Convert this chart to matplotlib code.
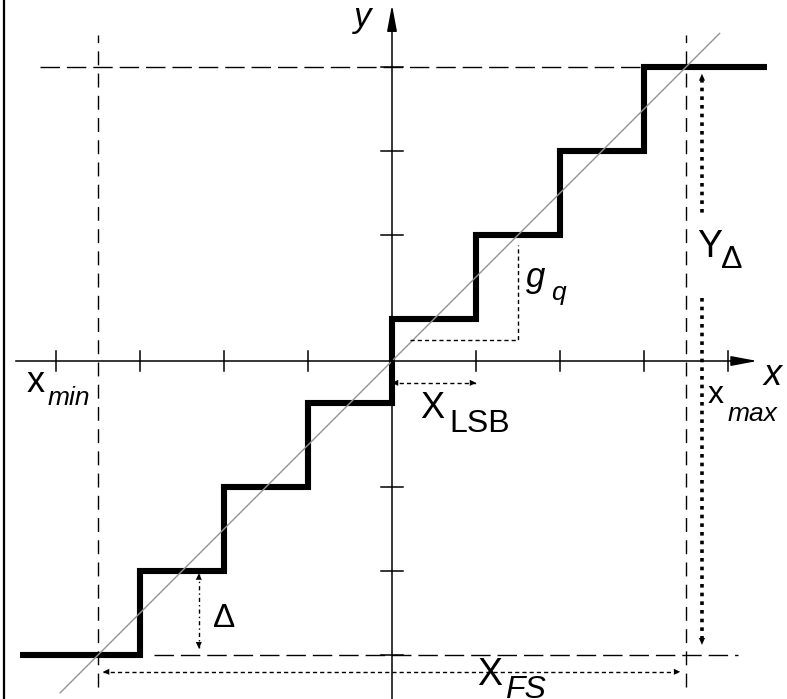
import matplotlib
matplotlib.use("Agg")
import matplotlib.pyplot as plt

# mid-rise quantizer, units of X_LSB (x) and Delta (y)
step_edges = [-4.43, -3, -2, -1, 0, 1, 2, 3, 4.46]
step_levels = [-3.5, -2.5, -1.5, -0.5, 0.5, 1.5, 2.5, 3.5]
ideal_line = [-3.95, 3.9]
x_ticks = [-4, -3, -2, -1, 1, 2, 3, 4]
y_ticks = [-3.5, -2.5, -1.5, 1.5, 2.5, 3.5]
x_min, x_max = -3.5, 3.5
y_min, y_max = -3.5, 3.5

SANS = "Liberation Sans"

fig = plt.figure(figsize=(7.87, 6.99), dpi=100)
ax = fig.add_axes([0, 0, 1, 1])
ax.set_xlim(-392 / 84, 395 / 84)
ax.set_ylim(-338 / 84, 361 / 84)
ax.axis("off")

# left frame line
ax.axvline(-4.615, color="k", lw=1.6)

# axes with arrows
ax.annotate("", xy=(4.35, 0), xytext=(-4.48, 0),
            arrowprops=dict(arrowstyle="-|>,head_length=1.6,head_width=0.3",
                            mutation_scale=10, lw=1.1, color="k",
                            shrinkA=0, shrinkB=0))
ax.annotate("", xy=(0, 4.24), xytext=(0, -4.05),
            arrowprops=dict(arrowstyle="-|>,head_length=1.6,head_width=0.3",
                            mutation_scale=10, lw=1.1, color="k",
                            shrinkA=0, shrinkB=0))
for t in x_ticks:
    ax.plot([t, t], [-0.12, 0.12], color="k", lw=1.1)
for t in y_ticks:
    ax.plot([-0.13, 0.13], [t, t], color="k", lw=1.1)

# range limits (dashed)
dash = (0, (14, 5))
vdash = (0, (10, 6))
ax.plot([x_min, x_min], [-3.88, 3.88], color="k", lw=1, ls=vdash)
ax.plot([x_max, x_max], [-3.88, 3.88], color="k", lw=1, ls=vdash)
ax.plot([-4.19, 3.0], [y_max, y_max], color="k", lw=1, ls=dash)
ax.plot([-2.83, 4.12], [y_min, y_min], color="k", lw=1, ls=dash)

# ideal transfer line and quantizer staircase
ax.plot(ideal_line, ideal_line, color="#949494", lw=1.0)
ax.stairs(step_levels, step_edges, baseline=None, color="k", lw=4.4,
          joinstyle="miter", capstyle="butt")


def head(tip, frm, size=0.45):
    ax.annotate("", xy=tip, xytext=frm,
                arrowprops=dict(arrowstyle="-|>,head_length=%g,head_width=0.22" % size,
                                mutation_scale=10, lw=0, color="k",
                                shrinkA=0, shrinkB=0))


fine = (0, (3, 2.2))
# X_LSB
ax.plot([0, 1], [-0.26, -0.26], color="k", lw=1, ls=fine)
head((0.0, -0.26), (0.1, -0.26))
head((1.0, -0.26), (0.9, -0.26))
# g_q
ax.plot([0.21, 1.5, 1.5], [0.25, 0.25, 1.38], color="k", lw=1, ls=fine)
# Delta
ax.plot([-2.3, -2.3], [-2.53, -3.42], color="k", lw=1, ls=(0, (3, 2.2, 1, 2.2)))
head((-2.3, -2.53), (-2.3, -2.63))
head((-2.3, -3.42), (-2.3, -3.32))
# X_FS
ax.plot([-3.44, 3.43], [-3.7, -3.7], color="k", lw=1, ls=fine)
head((-3.44, -3.7), (-3.34, -3.7))
head((3.43, -3.7), (3.33, -3.7))
# Y_Delta (bold dots)
bold = (0, (1, 1.4))
ax.plot([3.69, 3.69], [3.36, 1.74], color="k", lw=2.6, ls=bold)
ax.plot([3.69, 3.69], [0.75, -3.3], color="k", lw=2.6, ls=bold)
head((3.69, 3.42), (3.69, 3.3), size=0.5)
head((3.69, -3.38), (3.69, -3.26), size=0.5)

# labels
def label(x, y, s, size, italic=False):
    ax.text(x, y, s, fontsize=size, family=SANS,
            style="italic" if italic else "normal",
            ha="left", va="baseline")


label(-0.45, 3.98, "y", 25, italic=True)
label(4.42, -0.29, "x", 26, italic=True)
label(-4.35, -0.37, "x", 26)
label(-4.10, -0.52, "min", 19, italic=True)
label(3.76, -0.50, "x", 23)
label(4.00, -0.71, "max", 19, italic=True)
label(0.33, -0.68, "X", 26)
label(0.68, -0.85, "LSB", 23)
label(1.60, 0.88, "g", 25, italic=True)
label(1.90, 0.73, "q", 19, italic=True)
label(3.63, 1.24, "Y", 27)
label(3.92, 1.11, "\u0394", 23)
label(-2.13, -3.17, "\u0394", 24)
label(1.01, -3.86, "X", 27)
label(1.35, -4.01, "FS", 23, italic=True)

plt.savefig("out.png", dpi=100)
